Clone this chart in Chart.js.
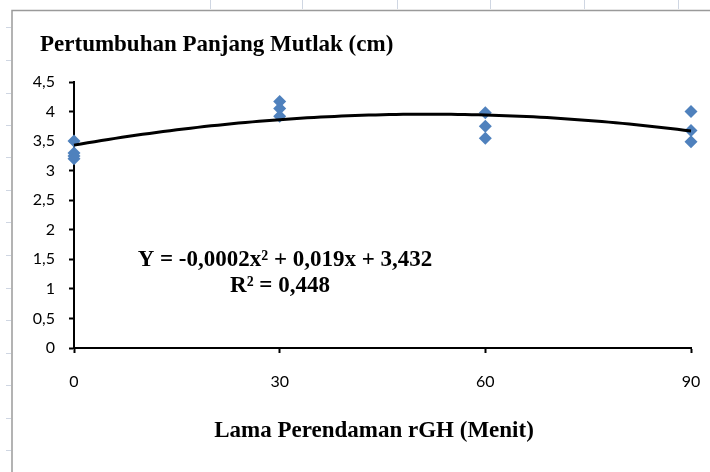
<!DOCTYPE html>
<html>
<head>
<meta charset="utf-8">
<script src="https://cdn.jsdelivr.net/npm/chart.js@4"></script>
<style>
  body { margin: 0; background: #fff; }
  canvas { display: block; }
</style>
</head>
<body>
<canvas id="trendChart" width="710" height="472"></canvas>
<script>
// Data
const lamaMenit = [0, 0, 0, 0, 30, 30, 30, 60, 60, 60, 90, 90, 90];
const panjangMutlak = [3.5, 3.3, 3.25, 3.2, 4.17, 4.05, 3.92, 3.98, 3.75, 3.55, 4.0, 3.68, 3.49];
const xTicks = [0, 30, 60, 90];
const yTicks = [0, 0.5, 1, 1.5, 2, 2.5, 3, 3.5, 4, 4.5];

// Polynomial trend line (c, b, a) as drawn in the chart
const trendCoef = [3.432, 0.0202, -0.000195];

const titleText = "Pertumbuhan Panjang Mutlak (cm)";
const xTitleText = "Lama Perendaman rGH (Menit)";
const equationLines = ["Y = -0,0002x\u00B2 + 0,019x + 3,432", "R\u00B2 = 0,448"];

const trendPoints = [];
for (let x = xTicks[0]; x <= xTicks[xTicks.length - 1]; x++) {
  trendPoints.push({ x: x, y: trendCoef[0] + trendCoef[1] * x + trendCoef[2] * x * x });
}

const scatterPoints = lamaMenit.map((x, i) => ({ x: x, y: panjangMutlak[i] }));

const tickFont = { family: "Lato", size: 16 };
const serifBold = "bold 23px 'Liberation Serif'";

// background frame and texts
const decorPlugin = {
  id: "decor",
  beforeDraw(chart) {
    const c = chart.ctx;
    c.save();
    c.fillStyle = "#fff";
    c.fillRect(0, 0, chart.width, chart.height);
    // spreadsheet gridline stubs
    c.strokeStyle = "#cfd6e2";
    c.lineWidth = 1;
    [210, 302, 397, 490, 584, 678].forEach((x) => {
      c.beginPath(); c.moveTo(x + 0.5, 0); c.lineTo(x + 0.5, 9); c.stroke();
    });
    [27, 60, 93, 125, 157, 190, 222, 255, 288, 320, 353, 385, 418, 450].forEach((y) => {
      c.beginPath(); c.moveTo(6, y + 0.5); c.lineTo(11, y + 0.5); c.stroke();
    });
    // chart border
    c.strokeStyle = "#9a9a9a";
    c.lineWidth = 1.5;
    c.beginPath();
    c.moveTo(12, chart.height);
    c.lineTo(12, 10.5);
    c.lineTo(chart.width, 10.5);
    c.stroke();
    c.restore();
  },
  afterDraw(chart) {
    const c = chart.ctx;
    c.save();
    c.fillStyle = "#000";
    c.font = serifBold;
    c.textBaseline = "alphabetic";
    c.textAlign = "left";
    c.fillText(titleText, 40, 51);
    c.textAlign = "center";
    c.fillText(xTitleText, 374, 437);
    c.fillText(equationLines[0], 285, 266);
    c.fillText(equationLines[1], 280, 292);
    c.restore();
  },
};

const ctx = document.getElementById("trendChart").getContext("2d");
const trendChart = new Chart(ctx, {
  type: "scatter",
  data: {
    datasets: [
      {
        type: "line",
        label: "Trend",
        data: trendPoints,
        borderColor: "#000",
        borderWidth: 3,
        pointRadius: 0,
        fill: false,
        tension: 0,
        clip: false,
        order: 0,
      },
      {
        label: "Panjang Mutlak",
        data: scatterPoints,
        pointStyle: "rectRot",
        pointRadius: 6.5,
        pointHoverRadius: 6.5,
        backgroundColor: "#4f81bd",
        borderColor: "#4f81bd",
        borderWidth: 0,
        clip: false,
        order: 1,
      },
    ],
  },
  options: {
    responsive: false,
    animation: false,
    events: [],
    layout: { padding: { top: 82, right: 19, bottom: 0, left: 0 } },
    plugins: {
      legend: { display: false },
      tooltip: { enabled: false },
    },
    scales: {
      x: {
        type: "linear",
        min: xTicks[0],
        max: xTicks[xTicks.length - 1],
        afterBuildTicks: (scale) => {
          scale.ticks = xTicks.map((v) => ({ value: v }));
        },
        ticks: { color: "#000", font: tickFont, padding: 19 },
        grid: { drawOnChartArea: false, tickLength: 5, tickColor: "#000", tickWidth: 2 },
        border: { color: "#000", width: 2 },
        afterFit: (scale) => {
          scale.height = 124;
          scale.paddingLeft = 0;
          scale.paddingRight = 0;
        },
      },
      y: {
        min: yTicks[0],
        max: yTicks[yTicks.length - 1],
        afterBuildTicks: (scale) => {
          scale.ticks = yTicks.map((v) => ({ value: v }));
        },
        ticks: {
          color: "#000",
          font: tickFont,
          padding: 14,
          callback: (v) => String(v).replace(".", ","),
        },
        grid: { drawOnChartArea: false, tickLength: 5, tickColor: "#000", tickWidth: 2 },
        border: { color: "#000", width: 2 },
        afterFit: (scale) => { scale.width = 74; },
      },
    },
  },
  plugins: [decorPlugin],
});
</script>
</body>
</html>
